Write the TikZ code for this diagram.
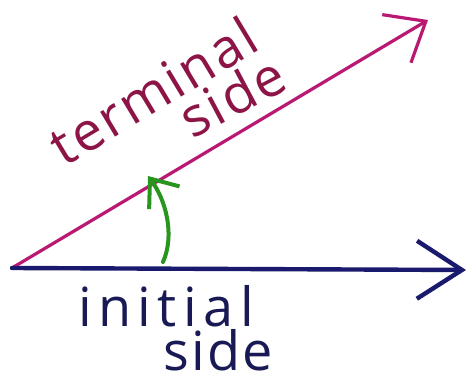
\documentclass[tikz,border=0pt]{standalone}
\usepackage{fontspec}
\setmainfont{Open Sans}
\usetikzlibrary{arrows.meta}
\definecolor{termc}{RGB}{185,25,115}
\definecolor{termt}{RGB}{140,20,70}
\definecolor{initc}{RGB}{25,25,110}
\definecolor{initt}{RGB}{25,25,85}
\definecolor{angc}{RGB}{40,150,30}
\tikzset{
  side/.style={line cap=round},
  lbl/.style={inner sep=0pt, font=\fontsize{54}{58}\selectfont},
}
\begin{document}
\begin{tikzpicture}[x=1pt,y=-1pt]
\useasboundingbox[fill=white] (0,0) rectangle (472,382);
\coordinate (O) at (12,268);
\coordinate (A) at (466,270);
\coordinate (B) at (428,20);
\coordinate (g0) at (163,262);
\coordinate (g1) at (148,176);
\draw[side, termc, line width=3.2pt, -{Straight Barb[length=34pt,width=56pt,line width=3.2pt]}] (O) -- (B);
\draw[side, initc, line width=4.4pt, -{Straight Barb[length=45pt,width=58pt,line width=4.4pt]}] (O) -- (A);
\draw[side, angc, line width=4pt, -{Straight Barb[length=24pt,width=38pt,line width=4pt]}] (g0) .. controls (175,235) and (166,200) .. (g1);
\node[lbl, termt, rotate=31] (term) at (153,91) {\addfontfeature{LetterSpace=5}terminal};
\node[lbl, termt, rotate=28] (side1) at (232,96) {\addfontfeature{LetterSpace=5}side};
\node[lbl, initt] (init) at (166,306) {\addfontfeature{LetterSpace=12}initial};
\node[lbl, initt] (side2) at (218,350) {\addfontfeature{LetterSpace=4}side};
\end{tikzpicture}
\end{document}
